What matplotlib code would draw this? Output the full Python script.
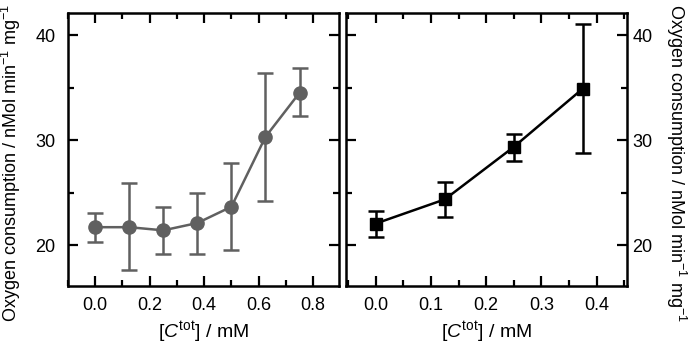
import matplotlib
matplotlib.use("Agg")
import matplotlib.pyplot as plt
from matplotlib.ticker import MultipleLocator, FormatStrFormatter

plt.rcParams['font.family'] = ['Liberation Sans', 'DejaVu Sans']
plt.rcParams['mathtext.fontset'] = 'custom'
plt.rcParams['mathtext.rm'] = 'Liberation Sans'
plt.rcParams['mathtext.it'] = 'Liberation Sans:italic'
plt.rcParams['mathtext.default'] = 'regular'

# Left panel data
x_left = [0.0, 0.125, 0.25, 0.375, 0.5, 0.625, 0.75]
y_left = [21.7, 21.7, 21.4, 22.1, 23.65, 30.3, 34.5]
err_left_hi = [23.08, 25.87, 23.62, 24.98, 27.84, 36.41, 36.82]
err_left_lo = [20.32, 17.62, 19.11, 19.11, 19.52, 24.19, 32.29]

# Right panel data
x_right = [0.0, 0.125, 0.25, 0.375]
y_right = [22.05, 24.35, 29.35, 34.9]
err_right_hi = [23.27, 26.0, 30.54, 41.02]
err_right_lo = [20.73, 22.64, 28.03, 28.73]

ylabel = "Oxygen consumption / nMol min$^{-1}$ mg$^{-1}$"
xlabel = r"[$\mathit{C}^{\mathrm{tot}}$] / mM"

fig = plt.figure(figsize=(6.88, 3.49), dpi=100)
axL = fig.add_axes([68/688, 1-286/349, (339-68)/688, (286-13)/349])
axR = fig.add_axes([346/688, 1-286/349, (627-346)/688, (286-13)/349])

grey = '#606060'
yl = [a - b for a, b in zip(y_left, err_left_lo)]
yh = [b - a for a, b in zip(y_left, err_left_hi)]
axL.errorbar(x_left, y_left, yerr=[yl, yh], color=grey, marker='o', markersize=9.5,
             linewidth=1.8, elinewidth=1.8, capsize=6, capthick=1.8)
rl = [a - b for a, b in zip(y_right, err_right_lo)]
rh = [b - a for a, b in zip(y_right, err_right_hi)]
axR.errorbar(x_right, y_right, yerr=[rl, rh], color='black', marker='s', markersize=8.5,
             linewidth=1.8, elinewidth=1.8, capsize=6, capthick=1.8)

for ax in (axL, axR):
    ax.set_ylim(16.1, 42.1)
    ax.yaxis.set_major_locator(MultipleLocator(10))
    ax.yaxis.set_minor_locator(MultipleLocator(5))
    for s in ax.spines.values():
        s.set_linewidth(1.8)
    ax.tick_params(which='both', direction='in', top=True, bottom=True, left=True, right=True,
                   width=1.6, labelsize=13)
    ax.tick_params(which='major', length=7)
    ax.tick_params(which='minor', length=4)
    ax.tick_params(axis='x', which='major', pad=8)
    ax.set_xlabel(xlabel, fontsize=14, labelpad=4)

axL.set_xlim(-0.1, 0.895)
axL.xaxis.set_major_locator(MultipleLocator(0.2))
axL.xaxis.set_minor_locator(MultipleLocator(0.1))
axL.xaxis.set_major_formatter(FormatStrFormatter('%.1f'))
axL.tick_params(axis='y', which='major', pad=9)
axL.set_ylabel(ylabel, fontsize=13)
axL.yaxis.set_label_coords(-0.165, 0.45)

axR.set_xlim(-0.054, 0.455)
axR.xaxis.set_major_locator(MultipleLocator(0.1))
axR.xaxis.set_minor_locator(MultipleLocator(0.05))
axR.xaxis.set_major_formatter(FormatStrFormatter('%.1f'))
axR.tick_params(labelleft=False, labelright=True)
axR.tick_params(axis='y', which='major', pad=4)
axR.yaxis.set_label_position('right')
axR.set_ylabel(ylabel, fontsize=13, rotation=-90)
axR.yaxis.label.set_verticalalignment('bottom')
axR.yaxis.set_label_coords((664-346)/281, 0.45)

fig.savefig('out.png', dpi=100)
